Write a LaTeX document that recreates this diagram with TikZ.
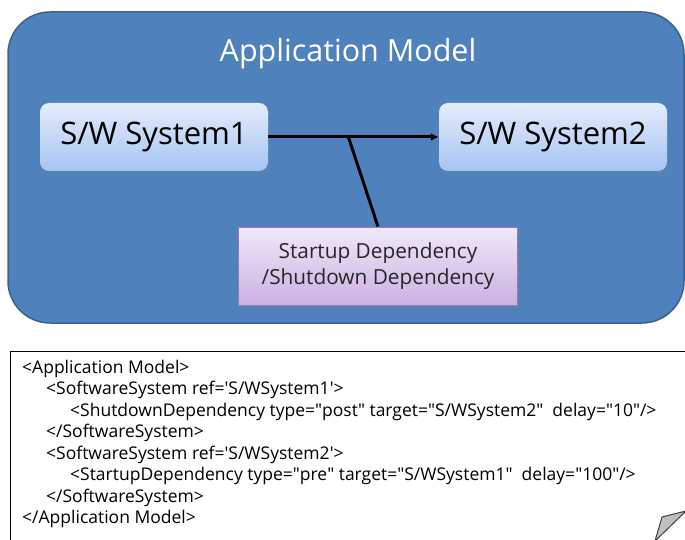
\documentclass[tikz,border=0pt]{standalone}
\usepackage{fontspec}
\setmainfont{Open Sans}
\usetikzlibrary{shadows,arrows.meta}
\definecolor{panelblue}{HTML}{4F81BD}
\definecolor{paneledge}{HTML}{3A6290}
\definecolor{systop}{HTML}{E3ECFB}
\definecolor{sysbot}{HTML}{A6C4F4}
\definecolor{deptop}{HTML}{F0E9F8}
\definecolor{depbot}{HTML}{CBB0E2}
\definecolor{depedge}{HTML}{9A77B8}
\newcommand{\dq}{\textquotedbl}
\newcommand{\sq}{\textquotesingle}
\tikzset{
  sysbox/.style={rounded corners=9pt, minimum width=228pt, minimum height=68pt,
    top color=systop, bottom color=sysbot, draw=none,
    drop shadow={shadow xshift=1pt, shadow yshift=-2pt, opacity=0.35},
    font=\fontsize{31}{36}\selectfont, text=black},
  depbox/.style={minimum width=279pt, minimum height=78pt,
    top color=deptop, bottom color=depbot, draw=depedge, line width=0.8pt,
    drop shadow={shadow xshift=1pt, shadow yshift=-2pt, opacity=0.35},
    align=center, font=\fontsize{20.8}{26}\selectfont, text=black!85},
  link/.style={line width=3pt, black},
  codeline/.style={anchor=west, inner sep=0pt, font=\fontsize{17.5}{20}\selectfont}
}
\begin{document}
\begin{tikzpicture}[x=1pt, y=-1pt]
\useasboundingbox (0,0) rectangle (685,540);
\clip (0,0) rectangle (685,540);
% model panel
\draw[fill=panelblue, draw=paneledge, line width=1.5pt, rounded corners=42pt]
  (8,12) rectangle (684,323);
\node[text=white, font=\fontsize{30.5}{34}\selectfont] (title) at (348,54) {Application Model};
% systems
\node[sysbox] (s1) at (154,137) {S/W System1};
\node[sysbox] (s2) at (553,137) {S/W System2};
\node[depbox] (dep) at (378,266) {Startup Dependency\\/Shutdown Dependency};
% connectors
\draw[link, -{Latex[length=8pt,width=8pt]}] (s1.east) -- (s2.west) coordinate[pos=0.47] (joint);
\draw[link] (joint) -- (dep.north);
% XML listing
\draw[black, line width=0.8pt] (10,351) rectangle (720,580);
\node[codeline] (l1) at (22,369) {<Application Model>};
\node[codeline] (l2) at (46,390) {<SoftwareSystem ref=\sq S/WSystem1\sq>};
\node[codeline] (l3) at (70,412) {<ShutdownDependency type=\dq post\dq{} target=\dq S/WSystem2\dq\ \ delay=\dq 10\dq/>};
\node[codeline] (l4) at (46,433) {</SoftwareSystem>};
\node[codeline] (l5) at (46,455) {<SoftwareSystem ref=\sq S/WSystem2\sq>};
\node[codeline] (l6) at (70,476) {<StartupDependency type=\dq pre\dq{} target=\dq S/WSystem1\dq\ \ delay=\dq 100\dq/>};
\node[codeline] (l7) at (46,498) {</SoftwareSystem>};
\node[codeline] (l8) at (22,519) {</Application Model>};
% page curl
\draw[fill=black!25, draw=black!75, line width=1pt, line join=round]
  (655,541) -- (662,517) -- (686,511) -- cycle;
\end{tikzpicture}
\end{document}
